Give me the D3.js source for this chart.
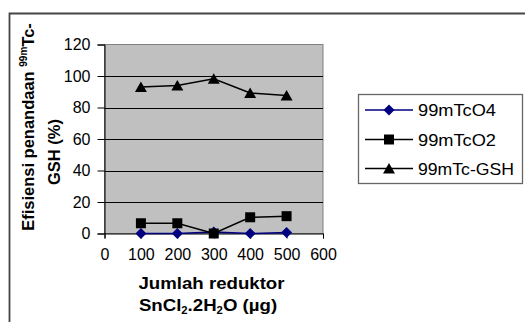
<!DOCTYPE html>
<html><head><meta charset="utf-8">
<script src="https://cdn.jsdelivr.net/npm/d3@7"></script>
<style>body{margin:0;background:#fff}svg{display:block;font-family:"Liberation Sans",Arial,sans-serif}</style>
</head><body>
<svg id="c" width="525" height="322"></svg>
<script>
const xValues = [100, 200, 300, 400, 500];
const tcO4 = [0, 0, 1, 0, 0.6];
const tcO2 = [6.5, 6.5, 0, 10.3, 11];
const tcGSH = [93, 94, 98.3, 89.2, 87.6];
const xTicks = [0, 100, 200, 300, 400, 500, 600];
const yTicks = [0, 20, 40, 60, 80, 100, 120];
const seriesNames = ["99mTcO4", "99mTcO2", "99mTc-GSH"];
const seriesColors = ["#000080", "#000000", "#000000"];
const seriesData = [tcO4, tcO2, tcGSH];

const shapes = [
  "M0,-5.5L5.5,0L0,5.5L-5.5,0Z",
  "M-5,-5H5V5H-5Z",
  "M0,-5.5L6,5L-6,5Z"
];

const svg = d3.select("#c");
const L = 104.5, R = 323, T = 44.5, B = 233.5;
const x = d3.scaleLinear().domain([0, 600]).range([L, R]);
const y = d3.scaleLinear().domain([0, 120]).range([B, T]);
const FONT = '"Liberation Sans",Arial,sans-serif';

// outer frame
svg.append("path").attr("d", `M9.5,330V13.5H530`).attr("fill", "none").attr("stroke", "#444").attr("stroke-width", 1.8);

// plot area
svg.append("rect").attr("x", L).attr("y", T).attr("width", R - L).attr("height", B - T)
  .attr("fill", "#c0c0c0").attr("stroke", "#808080").attr("stroke-width", 1);

// gridlines
svg.append("g").selectAll("line").data(yTicks.filter(d => d > 0 && d < 120)).join("line")
  .attr("x1", L).attr("x2", R).attr("y1", d => Math.round(y(d)) + 0.5).attr("y2", d => Math.round(y(d)) + 0.5)
  .attr("stroke", "#000").attr("stroke-width", 1);

// axes
const yAxis = d3.axisLeft(y).tickValues(yTicks).tickSize(7).tickPadding(7);
const gy = svg.append("g").attr("transform", `translate(${L},0)`).call(yAxis);
const xAxis = d3.axisBottom(x).tickValues(xTicks).tickSize(5).tickPadding(10);
const gx = svg.append("g").attr("transform", `translate(0,${B})`).call(xAxis);
[gx, gy].forEach(g => {
  g.attr("font-size", null).attr("font-family", null);
  g.select(".domain").attr("stroke", "#000");
  g.selectAll(".tick line").attr("stroke", "#000");
  g.selectAll("text").style("font-size", "16px").style("font-family", FONT).attr("fill", "#000");
});

// series
const line = d3.line().x((d, i) => x(xValues[i])).y(d => y(d));
seriesData.forEach((vals, si) => {
  svg.append("path").datum(vals).attr("d", line).attr("fill", "none")
    .attr("stroke", seriesColors[si]).attr("stroke-width", 1.5);
  svg.append("g").selectAll("path").data(vals).join("path")
    .attr("transform", (d, i) => `translate(${x(xValues[i])},${y(d)})`)
    .attr("d", shapes[si])
    .attr("fill", seriesColors[si]);
});

// legend
const lg = svg.append("g");
lg.append("rect").attr("x", 358.5).attr("y", 94.5).attr("width", 164).attr("height", 89)
  .attr("fill", "#fff").attr("stroke", "#666").attr("stroke-width", 1.3);
const rowY = [110, 139.5, 168.5];
const legendLen = [78, 78, 96];
seriesNames.forEach((name, i) => {
  lg.append("line").attr("x1", 365).attr("x2", 413).attr("y1", rowY[i]).attr("y2", rowY[i])
    .attr("stroke", seriesColors[i]).attr("stroke-width", 1.5);
  lg.append("path").attr("transform", `translate(389,${rowY[i]})`)
    .attr("d", shapes[i]).attr("fill", seriesColors[i]);
  lg.append("text").attr("x", 418).attr("y", rowY[i] + 6)
    .attr("textLength", legendLen[i]).attr("lengthAdjust", "spacingAndGlyphs")
    .style("font-size", "17px").attr("fill", "#000").text(name);
});

// y title
const yt = svg.append("text").attr("transform", "translate(33.5,127) rotate(-90)")
  .attr("text-anchor", "middle").style("font-size", "16.5px").attr("font-weight", "bold");
yt.append("tspan").text("Efisiensi penandaan ");
yt.append("tspan").style("font-size", "10px").attr("dy", -7).text("99m");
yt.append("tspan").attr("dy", 7).text("Tc-");
svg.append("text").attr("transform", "translate(59.5,152) rotate(-90)")
  .attr("text-anchor", "middle").style("font-size", "16.5px").attr("font-weight", "bold").text("GSH (%)");

// x title
svg.append("text").attr("transform", "translate(211.5,289) scale(1.13,1)").attr("text-anchor", "middle")
  .style("font-size", "16.5px").attr("font-weight", "bold").text("Jumlah reduktor");
const xt2 = svg.append("text").attr("transform", "translate(208,311) scale(1.13,1)").attr("text-anchor", "middle")
  .style("font-size", "16.5px").attr("font-weight", "bold");
xt2.append("tspan").text("SnCl");
xt2.append("tspan").style("font-size", "10px").attr("dy", 3).text("2");
xt2.append("tspan").attr("dy", -3).text(".2H");
xt2.append("tspan").style("font-size", "10px").attr("dy", 3).text("2");
xt2.append("tspan").attr("dy", -3).text("O (µg)");
</script>
</body></html>
